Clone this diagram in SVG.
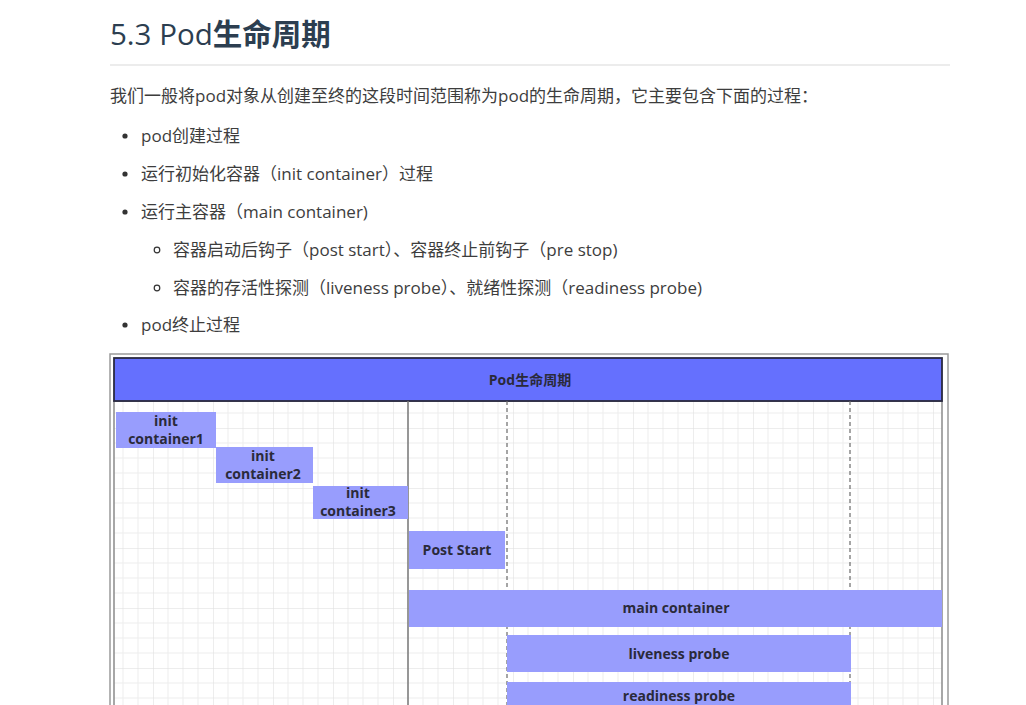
<svg xmlns="http://www.w3.org/2000/svg" width="1026" height="705" viewBox="0 0 1026 705">
<style>
.h{font-family:"Open Sans","Noto Sans CJK SC",sans-serif;fill:#2c3e50;font-size:29.5px}
.b{font-family:"Open Sans","Noto Sans CJK SC",sans-serif;font-size:17px;fill:#3d3d3d}
.box{fill:#989dfd}
.bt{font-family:"Open Sans","Noto Sans CJK SC",sans-serif;font-size:14px;font-weight:bold;fill:#2a2a3a;text-anchor:middle}
.dash{stroke:#6a6a6a;stroke-width:1.2;stroke-dasharray:4 3}
</style>
<defs>
<pattern id="grid" x="33" y="8" width="60" height="60" patternUnits="userSpaceOnUse">
<path d="M15 0V60M30 0V60M45 0V60M0 15H60M0 30H60M0 45H60" stroke="#ededed" stroke-width="1" fill="none"/>
<path d="M0 0V60M0 0H60" stroke="#dcdcdc" stroke-width="1" fill="none"/>
</pattern>
</defs>
<rect width="1026" height="705" fill="#ffffff"/>
<g id="title">
<text class="h" x="110" y="45">5.3 Pod<tspan font-weight="bold">生命周期</tspan></text>
<line x1="110" y1="65" x2="950" y2="65" stroke="#e6e6e6" stroke-width="1.5"/>
</g>
<g id="intro">
<text class="b" x="110" y="102">我们一般将pod对象从创建至终的这段时间范围称为pod的生命周期，它主要包含下面的过程：</text>
</g>
<g id="list">
<circle cx="125" cy="136" r="2.6" fill="#333"/>
<text class="b" x="141" y="142">pod创建过程</text>
<circle cx="125" cy="174" r="2.6" fill="#333"/>
<text class="b" x="141" y="180">运行初始化容器（init container）过程</text>
<circle cx="125" cy="212" r="2.6" fill="#333"/>
<text class="b" x="141" y="218">运行主容器（main container)</text>
<circle cx="157" cy="250" r="2.8" fill="none" stroke="#333" stroke-width="1.2"/>
<text class="b" x="173" y="256">容器启动后钩子（post start）、容器终止前钩子（pre stop)</text>
<circle cx="157" cy="288" r="2.8" fill="none" stroke="#333" stroke-width="1.2"/>
<text class="b" x="173" y="294">容器的存活性探测（liveness probe）、就绪性探测（readiness probe)</text>
<circle cx="125" cy="325" r="2.6" fill="#333"/>
<text class="b" x="141" y="331">pod终止过程</text>
</g>
<g id="frame">
<rect x="110" y="354" width="838" height="360" fill="#ffffff" stroke="#9a9a9a" stroke-width="1.5"/>
<rect x="114" y="401" width="828" height="310" fill="url(#grid)" stroke="#8a8a8a" stroke-width="1.5"/>
<rect id="header" x="114" y="358" width="828" height="43" fill="#6570fe" stroke="#2a2a40" stroke-width="1.8"/>
<text class="bt" x="530" y="385" font-size="13">Pod生命周期</text>
</g>
<g id="connectors">
<line x1="408" y1="401" x2="408" y2="705" stroke="#777" stroke-width="1.5"/>
<line class="dash" x1="507" y1="401" x2="507" y2="705"/>
<line class="dash" x1="850" y1="401" x2="850" y2="705"/>
</g>
<g id="init1"><rect class="box" x="116" y="412" width="100" height="36"/><text class="bt" x="166" y="426">init</text><text class="bt" x="166" y="444">container1</text></g>
<g id="init2"><rect class="box" x="216" y="447" width="97" height="36"/><text class="bt" x="263" y="461">init</text><text class="bt" x="263" y="479">container2</text></g>
<g id="init3"><rect class="box" x="313" y="486" width="95" height="33"/><text class="bt" x="358" y="498">init</text><text class="bt" x="358" y="516">container3</text></g>
<g id="poststart"><rect class="box" x="409" y="531" width="96" height="38"/><text class="bt" x="457" y="555">Post Start</text></g>
<g id="main"><rect class="box" x="409" y="590" width="533" height="37"/><text class="bt" x="676" y="613">main container</text></g>
<g id="liveness"><rect class="box" x="507" y="635" width="344" height="37"/><text class="bt" x="679" y="659">liveness probe</text></g>
<g id="readiness"><rect class="box" x="507" y="682" width="344" height="37"/><text class="bt" x="679" y="701">readiness probe</text></g>
</svg>
